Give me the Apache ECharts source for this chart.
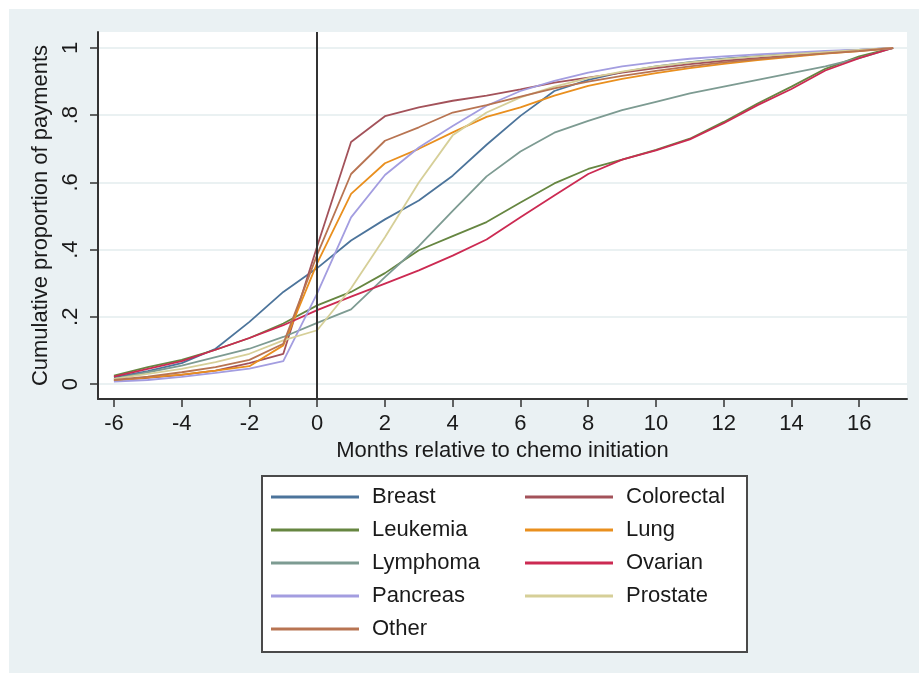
<!DOCTYPE html>
<html>
<head>
<meta charset="utf-8">
<script src="https://cdn.jsdelivr.net/npm/echarts@6/dist/echarts.min.js"></script>
<style>
  html, body { margin: 0; padding: 0; background: #ffffff; }
  #panel { position: absolute; left: 9px; top: 9px; width: 910px; height: 664px; background: #eaf1f3; }
  #chart { position: absolute; left: 0; top: 0; width: 919px; height: 675px; }
</style>
</head>
<body>
<div id="panel"></div>
<div id="chart"></div>
<script>
// Months relative to chemotherapy start
const months = [-6, -5, -4, -3, -2, -1, 0, 1, 2, 3, 4, 5, 6, 7, 8, 9, 10, 11, 12, 13, 14, 15, 16, 17];

// Cumulative proportion of payments by cancer type
const breast     = [0.020, 0.038, 0.062, 0.105, 0.185, 0.274, 0.345, 0.427, 0.490, 0.546, 0.620, 0.712, 0.798, 0.872, 0.905, 0.928, 0.945, 0.958, 0.968, 0.976, 0.983, 0.989, 0.994, 1];
const colorectal = [0.010, 0.018, 0.027, 0.040, 0.062, 0.090, 0.410, 0.720, 0.797, 0.823, 0.843, 0.858, 0.877, 0.897, 0.912, 0.927, 0.940, 0.952, 0.962, 0.970, 0.978, 0.985, 0.992, 1];
const leukemia   = [0.025, 0.050, 0.072, 0.102, 0.137, 0.180, 0.234, 0.274, 0.330, 0.398, 0.440, 0.482, 0.540, 0.597, 0.640, 0.668, 0.697, 0.730, 0.780, 0.835, 0.885, 0.938, 0.975, 1];
const lung       = [0.010, 0.020, 0.028, 0.040, 0.053, 0.115, 0.360, 0.566, 0.657, 0.700, 0.749, 0.795, 0.823, 0.858, 0.887, 0.908, 0.925, 0.940, 0.953, 0.964, 0.974, 0.983, 0.991, 1];
const lymphoma   = [0.015, 0.035, 0.055, 0.080, 0.105, 0.140, 0.182, 0.222, 0.318, 0.410, 0.515, 0.618, 0.692, 0.748, 0.783, 0.815, 0.840, 0.865, 0.885, 0.905, 0.925, 0.945, 0.970, 1];
const ovarian    = [0.022, 0.045, 0.068, 0.102, 0.137, 0.175, 0.220, 0.260, 0.299, 0.338, 0.382, 0.430, 0.496, 0.561, 0.625, 0.668, 0.695, 0.728, 0.776, 0.830, 0.878, 0.933, 0.970, 1];
const pancreas   = [0.007, 0.012, 0.021, 0.033, 0.046, 0.068, 0.270, 0.496, 0.622, 0.704, 0.768, 0.828, 0.872, 0.902, 0.927, 0.945, 0.958, 0.968, 0.975, 0.981, 0.986, 0.991, 0.995, 1];
const prostate   = [0.015, 0.030, 0.045, 0.065, 0.090, 0.130, 0.160, 0.285, 0.437, 0.600, 0.740, 0.808, 0.853, 0.885, 0.910, 0.930, 0.945, 0.957, 0.967, 0.975, 0.982, 0.988, 0.994, 1];
const other      = [0.012, 0.022, 0.035, 0.050, 0.072, 0.120, 0.385, 0.625, 0.724, 0.764, 0.808, 0.830, 0.855, 0.880, 0.900, 0.917, 0.932, 0.945, 0.957, 0.967, 0.976, 0.984, 0.991, 1];

const seriesNames = ['Breast', 'Colorectal', 'Leukemia', 'Lung', 'Lymphoma', 'Ovarian', 'Pancreas', 'Prostate', 'Other'];
const seriesValues = [breast, colorectal, leukemia, lung, lymphoma, ovarian, pancreas, prostate, other];
const seriesColors = ['#4c749b', '#a3525a', '#668641', '#e98f1e', '#7d9b92', '#cc2a52', '#a39de0', '#d6cf98', '#b87452'];

// Axis ticks and their labels
const xTicks = [-6, -4, -2, 0, 2, 4, 6, 8, 10, 12, 14, 16];
const yTicks = [0, 0.2, 0.4, 0.6, 0.8, 1];
const yTickLabels = ['0', '.2', '.4', '.6', '.8', '1'];

const legendLeftColumn = ['Breast', 'Leukemia', 'Lymphoma', 'Pancreas', 'Other'];
const legendRightColumn = ['Colorectal', 'Lung', 'Ovarian', 'Prostate'];

const FONT = '"Liberation Sans", Arial, Helvetica, sans-serif';
const INK = '#1a1a1a';

const chart = echarts.init(document.getElementById('chart'), null, { renderer: 'canvas' });

const series = seriesNames.map((name, i) => ({
  name: name,
  type: 'line',
  data: months.map((m, j) => [m, seriesValues[i][j]]),
  symbol: 'none',
  showSymbol: false,
  color: seriesColors[i],
  lineStyle: { width: 1.8, color: seriesColors[i] },
  emphasis: { disabled: true },
  animation: false
}));

// Reference line at chemo initiation
series[0].markLine = {
  silent: true,
  symbol: ['none', 'none'],
  label: { show: false },
  lineStyle: { color: '#333333', width: 2, type: 'solid' },
  data: [{ xAxis: 0 }],
  animation: false
};

function legendColumn(left, names) {
  return {
    orient: 'vertical',
    left: left,
    top: 486,
    padding: 0,
    icon: 'rect',
    itemWidth: 88,
    itemHeight: 3,
    itemGap: 11,
    selectedMode: false,
    data: names,
    textStyle: {
      fontFamily: FONT,
      fontSize: 22,
      color: INK,
      lineHeight: 22,
      padding: [0, 0, 0, 8]
    }
  };
}

chart.setOption({
  backgroundColor: 'transparent',
  animation: false,
  grid: {
    left: 98,
    top: 32,
    width: 809,
    height: 367,
    show: true,
    backgroundColor: '#ffffff',
    borderWidth: 0
  },
  xAxis: {
    type: 'value',
    min: -6.47,
    max: 17.41,
    name: 'Months relative to chemo initiation',
    nameLocation: 'middle',
    nameGap: 41,
    nameTextStyle: { fontFamily: FONT, fontSize: 22, color: INK },
    axisLine: { show: true, onZero: false, lineStyle: { color: '#333333', width: 2 } },
    axisTick: { show: true, length: 8, lineStyle: { color: '#333333', width: 1.5 }, customValues: xTicks },
    axisLabel: {
      customValues: xTicks,
      margin: 14,
      fontFamily: FONT,
      fontSize: 22,
      color: INK,
      formatter: v => String(v)
    },
    splitLine: { show: false }
  },
  yAxis: {
    type: 'value',
    min: -0.0446,
    max: 1.0476,
    name: 'Cumulative proportion of payments',
    nameLocation: 'middle',
    nameGap: 37,
    nameTextStyle: { fontFamily: FONT, fontSize: 22, color: INK },
    axisLine: { show: true, onZero: false, lineStyle: { color: '#333333', width: 2 } },
    axisTick: { show: true, length: 8, lineStyle: { color: '#333333', width: 1.5 }, customValues: yTicks },
    axisLabel: {
      customValues: yTicks,
      rotate: 90,
      margin: 16,
      fontFamily: FONT,
      fontSize: 22,
      color: INK,
      formatter: v => {
        let k = 0;
        yTicks.forEach((t, i) => { if (Math.abs(t - v) < Math.abs(yTicks[k] - v)) k = i; });
        return yTickLabels[k];
      }
    },
    splitLine: { show: true, lineStyle: { color: '#eaf1f2', width: 2 } }
  },
  legend: [legendColumn(271, legendLeftColumn), legendColumn(525, legendRightColumn)],
  graphic: [{
    type: 'rect',
    left: 261,
    top: 475,
    z: -1,
    shape: { width: 485, height: 176 },
    style: { fill: '#ffffff', stroke: '#4a4a4a', lineWidth: 2 }
  }],
  series: series
});
</script>
</body>
</html>
